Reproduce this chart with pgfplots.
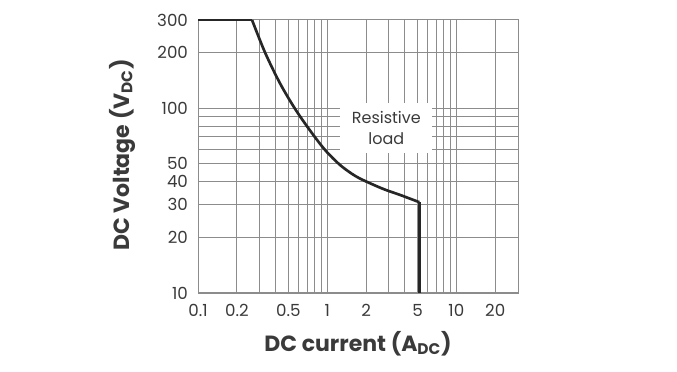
\documentclass[border=0pt]{standalone}
\usepackage{pgfplots}
\pgfplotsset{compat=1.18}
\usepackage{fontspec}
\setmainfont{Poppins}
\definecolor{txt}{HTML}{3A3A3A}
\definecolor{gridc}{HTML}{8C8C8C}
\definecolor{curve}{HTML}{262626}
\begin{document}
\begin{tikzpicture}[x=1pt,y=1pt]
\useasboundingbox (0,0) rectangle (507.75,278.25);
\begin{axis}[
  at={(148.5pt,58.5pt)}, anchor=south west,
  scale only axis, width=240pt, height=204.75pt,
  xmode=log, ymode=log,
  xmin=0.1, xmax=30, ymin=10, ymax=300,
  xtick={0.1,0.2,0.5,1,2,5,10,20},
  xticklabels={0.1,0.2,0.5,1,2,5,10,20},
  minor xtick={0.3,0.4,0.6,0.7,0.8,0.9,3,4,6,7,8,9},
  ytick={10,20,30,40,50,100,200,300},
  yticklabels={10,20,30,40,50,100,200,300},
  minor ytick={60,70,80,90},
  grid=both,
  major grid style={gridc, line width=0.75pt},
  minor grid style={gridc, line width=0.75pt},
  axis line style={gridc, line width=0.75pt},
  major tick length=0pt, minor tick length=0pt,
  tick style={draw=none},
  /pgf/number format/assume math mode=true,
  ticklabel style={font=\fontsize{12.5}{13}\selectfont, text=txt},
  xticklabel style={yshift=-5pt},
  yticklabel style={xshift=-4pt},
  xlabel={DC current (A\textsubscript{DC})},
  ylabel={DC Voltage (V\textsubscript{DC})},
  xlabel style={at={(axis description cs:0.5,-0.185)}, anchor=center, font=\bfseries\fontsize{16.5}{18}\selectfont, text=txt},
  ylabel style={at={(axis description cs:-0.2375,0.505)}, anchor=center, font=\bfseries\fontsize{16.5}{18}\selectfont, text=txt},
  clip=false,
]
\addplot[curve, line width=2pt] coordinates {(0.1,300) (0.262,300)};
\addplot[curve, line width=2pt, smooth, tension=0.5] coordinates {
  (0.262,300) (0.331,199.5) (0.432,136) (0.565,99) (0.738,75.6)
  (0.965,59.3) (1.261,49.2) (1.648,43.0) (2.154,39.2) (2.816,36.2)
  (3.681,33.9) (5.167,31.0)};
\addplot[curve, line width=2pt] coordinates {(5.167,31.0) (5.167,10)};
\node[fill=white, minimum width=69pt, minimum height=37.5pt, align=center,
  font=\fontsize{12}{16}\selectfont, text=txt, inner sep=0pt]
  at (axis cs:2.87,78) {Resistive\\load};
\end{axis}
\end{tikzpicture}
\end{document}
